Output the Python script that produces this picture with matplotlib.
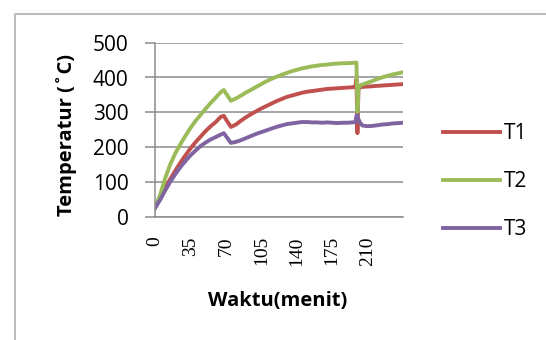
import matplotlib.pyplot as plt
from matplotlib.lines import Line2D

# waktu (menit) dan suhu tiap termokopel
waktu = [0, 5, 10, 15, 20, 25, 30, 35, 40, 45, 50, 55, 60, 65, 68, 70, 75,
         80, 85, 90, 95, 100, 105, 110, 115, 120, 125, 130, 135, 140, 145,
         150, 155, 160, 165, 170, 175, 180, 185, 190, 195, 198, 199, 200,
         201, 203, 205, 210, 215, 220, 225, 230, 235, 240, 245]
T1 = [25, 52, 82, 108, 132, 155, 176, 196, 214, 230, 246, 260, 272, 287,
      290, 280, 258, 265, 276, 286, 295, 303, 311, 318, 325, 332, 338, 344,
      348, 352, 356, 359, 361, 363, 365, 367, 368, 369, 370, 371, 372, 374,
      395, 240, 370, 372, 373, 374, 375, 376, 377, 378, 379, 380, 381]
T2 = [25, 62, 110, 150, 182, 208, 232, 255, 275, 293, 310, 327, 342, 358,
      364, 355, 333, 340, 348, 357, 365, 373, 381, 389, 396, 402, 408, 413,
      418, 422, 426, 429, 432, 434, 436, 437, 439, 440, 441, 441, 442, 443,
      443, 300, 370, 378, 380, 385, 390, 396, 401, 405, 409, 412, 415]
T3 = [25, 48, 75, 100, 122, 142, 160, 176, 190, 203, 213, 222, 229, 236,
      240, 232, 212, 215, 220, 226, 232, 238, 243, 248, 253, 258, 262, 266,
      268, 270, 272, 272, 271, 271, 270, 271, 270, 269, 270, 270, 271, 272,
      290, 292, 280, 268, 262, 260, 261, 263, 265, 266, 268, 269, 270]
xticks = [0, 35, 70, 105, 140, 175, 210]
yticks = [0, 100, 200, 300, 400, 500]

W, H = 546, 340
fig = plt.figure(figsize=(W / 100, H / 100), dpi=100)
# bingkai chart (hanya tepi kiri dan atas yang terlihat)
fig.lines.append(Line2D([14.5 / W, 14.5 / W, 1], [0, 1 - 13.5 / H, 1 - 13.5 / H],
                        transform=fig.transFigure, color="#bcbcbc", lw=1.5))

ax = fig.add_axes([155 / W, 1 - 216.7 / H, (403 - 155) / W, (216.7 - 42.7) / H])
ax.plot(waktu, T1, color="#c0504d", lw=2.8, label="T1")
ax.plot(waktu, T2, color="#9bbb59", lw=2.8, label="T2")
ax.plot(waktu, T3, color="#8064a2", lw=2.8, label="T3")

ax.set_xlim(0, 245)
ax.set_ylim(0, 500)
ax.set_yticks(yticks)
ax.set_xticks(xticks)
ax.set_xticklabels([str(v) for v in xticks], rotation=90,
                   fontfamily="Liberation Serif", fontsize=14)
ax.set_yticklabels([str(v) for v in yticks], fontfamily="Open Sans", fontsize=15)
ax.grid(axis="y", color="#8c8c8c", lw=1.1)
ax.set_axisbelow(True)
for s in ["top", "right"]:
    ax.spines[s].set_visible(False)
ax.spines["left"].set_color("#8c8c8c")
ax.spines["bottom"].set_color("#8c8c8c")
ax.spines["left"].set_linewidth(1.1)
ax.spines["bottom"].set_linewidth(1.1)
ax.tick_params(axis="y", length=7, width=1.1, color="#8c8c8c", pad=12)
ax.tick_params(axis="x", length=0, pad=14)

fig.text(67 / W, 1 - 135 / H, "Temperatur (˚C)", rotation=90, ha="center",
         va="center", fontfamily="Open Sans", fontweight="bold", fontsize=14.5)
fig.text(278 / W, 1 - 301 / H, "Waktu(menit)", ha="center", va="center",
         fontfamily="Open Sans", fontweight="bold", fontsize=14.5)

fig.legend(loc="upper left", bbox_to_anchor=(443 / W, 1 - 123 / H),
           frameon=False, prop={"family": "Open Sans", "size": 15},
           handlelength=2.75, handletextpad=0.15, labelspacing=1.3,
           borderaxespad=0, borderpad=0)

fig.savefig("out.png", dpi=100)
